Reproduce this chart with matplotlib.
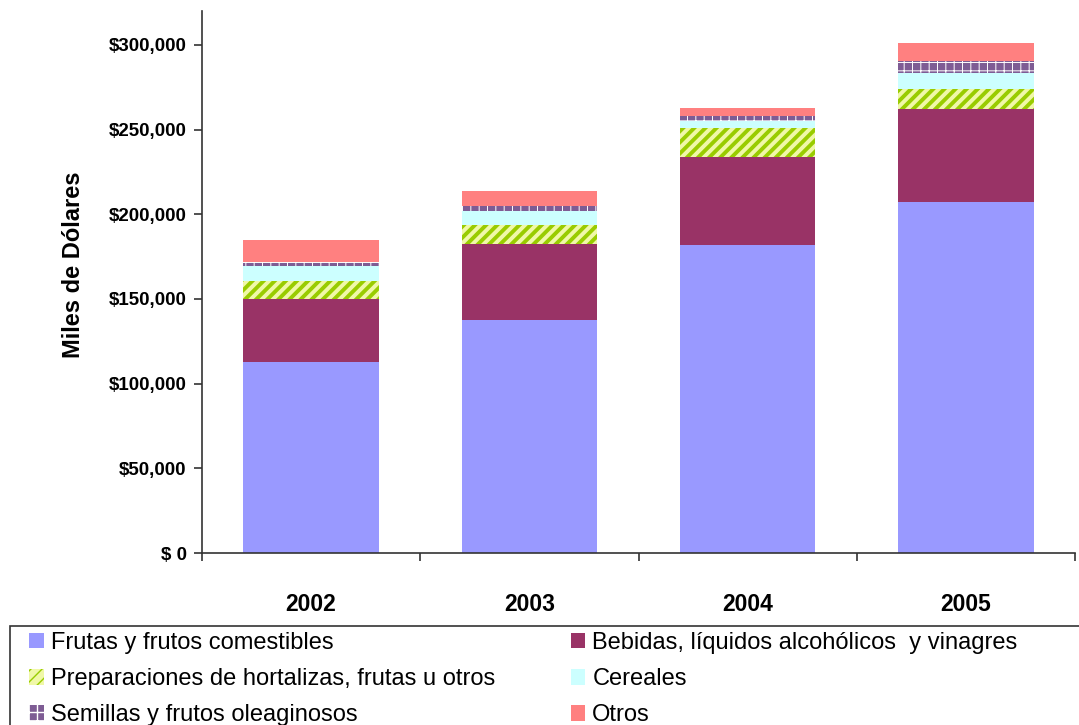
import matplotlib
matplotlib.use("Agg")
import matplotlib.pyplot as plt
from matplotlib.patches import Patch, Rectangle
from matplotlib.ticker import FuncFormatter, FixedLocator
import numpy as np

# ## DATA ##################################################################### #

YEARS = ["2002", "2003", "2004", "2005"]

FRUTAS = [113000, 137600, 181900, 207300]
BEBIDAS = [37000, 44900, 51800, 54900]
PREPARACIONES = [10600, 11200, 17100, 11800]
CEREALES = [9100, 8500, 4500, 9300]
SEMILLAS = [2300, 2800, 3000, 6900]
OTROS = [12900, 8800, 4700, 11200]

SERIES_LABELS = [
    "Frutas y frutos comestibles",
    "Bebidas, líquidos alcohólicos  y vinagres",
    "Preparaciones de hortalizas, frutas u otros",
    "Cereales",
    "Semillas y frutos oleaginosos",
    "Otros",
]

YTICKS = [0, 50000, 100000, 150000, 200000, 250000, 300000]

# ## STYLE #################################################################### #

# face, hatch colour, hatch pattern, hatch width
STYLES = [
    ("#9999FF", "#9999FF", None, 1.0),
    ("#993366", "#993366", None, 1.0),
    ("#F0F8A8", "#99CC00", "///", 2.8),
    ("#CCFFFF", "#CCFFFF", None, 1.0),
    ("#7E5C94", "#FFFFFF", "++", 0.7),
    ("#FF8080", "#FF8080", None, 1.0),
]

plt.rcParams.update({"font.family": ["Liberation Sans", "DejaVu Sans"]})

W, H = 1079, 725
fig = plt.figure(figsize=(W / 100, H / 100), dpi=100)
ax = fig.add_axes([202 / W, (H - 553) / H, (1075 - 202) / W, (553 - 11) / H])

series = [FRUTAS, BEBIDAS, PREPARACIONES, CEREALES, SEMILLAS, OTROS]
x = np.arange(len(YEARS))
bottom = np.zeros(len(YEARS))
handles = []
for vals, label, (face, hcol, hatch, hlw) in zip(series, SERIES_LABELS, STYLES):
    with plt.rc_context({"hatch.linewidth": hlw}):
        ax.bar(x, vals, 0.62, bottom=bottom, color=face, edgecolor=hcol,
               hatch=hatch, linewidth=0)
        handles.append(Patch(facecolor=face, edgecolor=hcol, hatch=hatch,
                             linewidth=0, label=label))
    bottom += np.asarray(vals, dtype=float)

ax.set_xlim(-0.5, len(YEARS) - 0.5)
ax.set_ylim(0, 320000)

# axes look
for side in ("top", "right"):
    ax.spines[side].set_visible(False)
for side in ("left", "bottom"):
    ax.spines[side].set_color("#333333")
    ax.spines[side].set_linewidth(1.2)

ax.set_xticks(x)
ax.set_xticklabels(YEARS, fontsize=16.5, fontweight="bold")
ax.tick_params(axis="x", which="major", length=0, pad=29)
ax.xaxis.set_minor_locator(FixedLocator(np.arange(-0.5, len(YEARS), 1.0)))
ax.tick_params(axis="x", which="minor", length=6, direction="out",
               color="#333333", width=1.2)

ax.set_yticks(YTICKS)
ax.yaxis.set_major_formatter(
    FuncFormatter(lambda v, p: "$ 0" if v == 0 else "${:,.0f}".format(v)))
ax.tick_params(axis="y", length=6, direction="out", color="#333333",
               width=1.2, pad=5)
for lab in ax.get_yticklabels():
    lab.set_fontsize(13.5)
    lab.set_fontweight("bold")

fig.text(74 / W, 1 - 265 / H, "Miles de Dólares", rotation=90,
         ha="center", va="center", fontsize=17, fontweight="bold")

# legend: reorder so columns match (matplotlib fills column first)
order = [0, 2, 4, 1, 3, 5]
fig.legend([handles[i] for i in order], [SERIES_LABELS[i] for i in order],
           ncol=2, loc="upper left", bbox_to_anchor=(29 / W, 1 - 632 / H),
           frameon=False, fontsize=17, handlelength=0.62, handleheight=0.62,
           handletextpad=0.3, columnspacing=3.2, labelspacing=0.6,
           borderpad=0, borderaxespad=0)

fig.patches.append(Rectangle((10 / W, -0.05), (W + 20 - 10) / W,
                             1 - 626 / H + 0.05, transform=fig.transFigure,
                             fill=False, edgecolor="#333333", linewidth=1.2))

fig.savefig("out.png", dpi=100, facecolor="white")
